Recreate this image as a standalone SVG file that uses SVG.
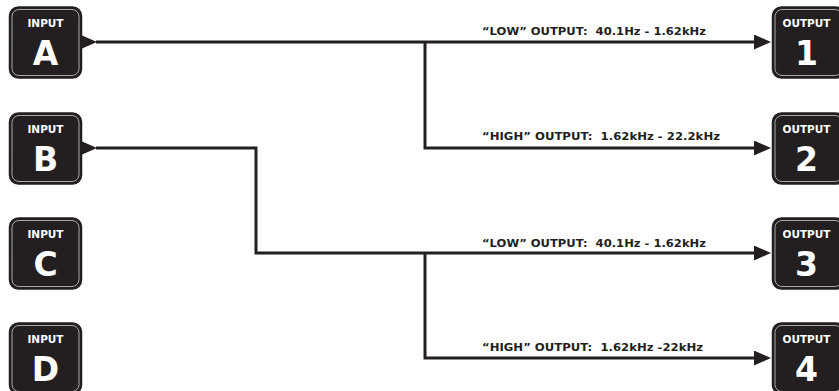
<svg xmlns="http://www.w3.org/2000/svg" width="839" height="391" viewBox="0 0 839 391">
  <style>
    .box { fill: #231f20; stroke: #231f20; stroke-width: 1.5; }
    .bev { fill: none; stroke: #b8b6b6; stroke-width: 0.9; }
    .ptr { fill: #231f20; }
    .small { font-family: "DejaVu Sans", "Liberation Sans", sans-serif; font-weight: bold; font-size: 10.5px; fill: #ffffff; text-anchor: middle; }
    .big { font-family: "DejaVu Sans", "Liberation Sans", sans-serif; font-weight: bold; font-size: 33px; fill: #ffffff; text-anchor: middle; }
    .wire { fill: none; stroke: #231f20; stroke-width: 3; stroke-linejoin: miter; }
    .lbl { font-family: "DejaVu Sans", "Liberation Sans", sans-serif; font-weight: bold; font-size: 10.5px; fill: #231f20; white-space: pre; }
  </style>
  <defs>
    <marker id="arr" markerUnits="userSpaceOnUse" markerWidth="17" markerHeight="15" viewBox="0 0 17 15" refX="1" refY="7.5" orient="auto">
      <path d="M0,0 L17,7.5 L0,15 z" fill="#231f20"/>
    </marker>
  </defs>
  <rect width="839" height="391" fill="#ffffff"/>

  <g id="connectors">
    <path class="wire" d="M96,42 H755" marker-end="url(#arr)"/>
    <path class="wire" d="M425,42 V148 H755" marker-end="url(#arr)"/>
    <path class="wire" d="M96,148 H256 V253 H755" marker-end="url(#arr)"/>
    <path class="wire" d="M425,253 V358 H755" marker-end="url(#arr)"/>
    <text class="lbl" x="482" y="35" textLength="224" lengthAdjust="spacingAndGlyphs">“LOW” OUTPUT:  40.1Hz - 1.62kHz</text>
    <text class="lbl" x="482" y="140" textLength="238" lengthAdjust="spacingAndGlyphs">“HIGH” OUTPUT:  1.62kHz - 22.2kHz</text>
    <text class="lbl" x="482" y="247" textLength="224" lengthAdjust="spacingAndGlyphs">“LOW” OUTPUT:  40.1Hz - 1.62kHz</text>
    <text class="lbl" x="482" y="351" textLength="221" lengthAdjust="spacingAndGlyphs">“HIGH” OUTPUT:  1.62kHz -22kHz</text>
  </g>

  <g id="input-a">
    <rect class="box" x="9.5" y="7" width="72" height="71" rx="9"/>
    <rect class="bev" x="12" y="9.5" width="67" height="66" rx="7"/>
    <path class="ptr" d="M81,35 L97,42 L81,49 z"/>
    <text class="small" x="45.5" y="27">INPUT</text>
    <text class="big" x="45.5" y="65">A</text>
  </g>
  <g id="input-b">
    <rect class="box" x="9.5" y="113" width="72" height="71" rx="9"/>
    <rect class="bev" x="12" y="115.5" width="67" height="66" rx="7"/>
    <path class="ptr" d="M81,141 L97,148 L81,155 z"/>
    <text class="small" x="45.5" y="133">INPUT</text>
    <text class="big" x="45.5" y="171">B</text>
  </g>
  <g id="input-c">
    <rect class="box" x="9.5" y="218" width="72" height="71" rx="9"/>
    <rect class="bev" x="12" y="220.5" width="67" height="66" rx="7"/>
    <text class="small" x="45.5" y="238">INPUT</text>
    <text class="big" x="45.5" y="276">C</text>
  </g>
  <g id="input-d">
    <rect class="box" x="9.5" y="323" width="72" height="71" rx="9"/>
    <rect class="bev" x="12" y="325.5" width="67" height="66" rx="7"/>
    <text class="small" x="45.5" y="343">INPUT</text>
    <text class="big" x="45.5" y="381">D</text>
  </g>

  <g id="output-1">
    <rect class="box" x="772.5" y="7" width="72" height="71" rx="9"/>
    <rect class="bev" x="775" y="9.5" width="67" height="66" rx="7"/>
    <text class="small" x="806.5" y="27">OUTPUT</text>
    <text class="big" x="806.5" y="65">1</text>
  </g>
  <g id="output-2">
    <rect class="box" x="772.5" y="113" width="72" height="71" rx="9"/>
    <rect class="bev" x="775" y="115.5" width="67" height="66" rx="7"/>
    <text class="small" x="806.5" y="133">OUTPUT</text>
    <text class="big" x="806.5" y="171">2</text>
  </g>
  <g id="output-3">
    <rect class="box" x="772.5" y="218" width="72" height="71" rx="9"/>
    <rect class="bev" x="775" y="220.5" width="67" height="66" rx="7"/>
    <text class="small" x="806.5" y="238">OUTPUT</text>
    <text class="big" x="806.5" y="276">3</text>
  </g>
  <g id="output-4">
    <rect class="box" x="772.5" y="323" width="72" height="71" rx="9"/>
    <rect class="bev" x="775" y="325.5" width="67" height="66" rx="7"/>
    <text class="small" x="806.5" y="343">OUTPUT</text>
    <text class="big" x="806.5" y="381">4</text>
  </g>
</svg>
